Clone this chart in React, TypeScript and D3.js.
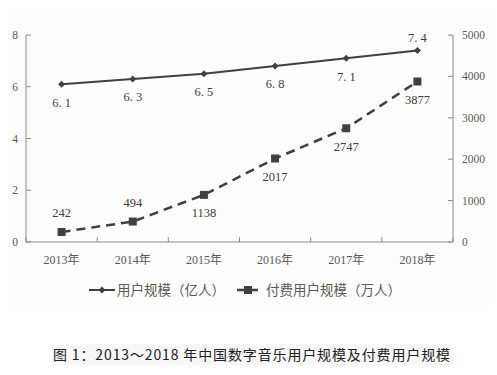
import React from "react";
import * as d3 from "d3";

const years = ["2013年", "2014年", "2015年", "2016年", "2017年", "2018年"];
const users = [6.1, 6.3, 6.5, 6.8, 7.1, 7.4];
const paidUsers = [242, 494, 1138, 2017, 2747, 3877];
const leftTicks = [0, 2, 4, 6, 8];
const rightTicks = [0, 1000, 2000, 3000, 4000, 5000];
const userLabelAbove = [false, false, false, false, false, true];
const paidLabelAbove = [true, true, false, false, false, false];
const legendNames = ["用户规模（亿人）", "付费用户规模（万人）"];
const caption = "图 1：2013～2018 年中国数字音乐用户规模及付费用户规模";

const W = 497, H = 375;
const left = 26, right = 453, top = 35, bottom = 242;
const col = "#404040";
const axisCol = "#8c8c8c";
const txtCol = "#595959";
const serif = "'Liberation Serif', 'DejaVu Serif', 'Noto Sans CJK SC', serif";
const cjk = "'Noto Sans CJK SC', sans-serif";

export default function App() {
  const x = d3.scaleBand<string>().domain(years).range([left, right]).padding(0);
  const yL = d3.scaleLinear().domain([0, 8]).range([bottom, top]);
  const yR = d3.scaleLinear().domain([0, 5000]).range([bottom, top]);
  const cx = (i: number) => (x(years[i]) as number) + x.bandwidth() / 2;
  const line1 = d3.line<number>().x((_, i) => cx(i)).y((d) => yL(d));
  const line2 = d3.line<number>().x((_, i) => cx(i)).y((d) => yR(d));
  const boundaries = years.map((y) => x(y) as number).concat([right]);

  const diamond = (px: number, py: number, s: number) =>
    `M${px},${py - s}L${px + s},${py}L${px},${py + s}L${px - s},${py}Z`;

  return (
    <svg width={W} height={H} style={{ position: "absolute", left: 0, top: 0 }}>
      <rect x={0} y={0} width={W} height={H} fill="#fff" />
      <rect x={8} y={8} width={482} height={298} fill="#fdfdfd" />
      {/* axes */}
      <line x1={left} x2={left} y1={top} y2={bottom} stroke={axisCol} />
      <line x1={right} x2={right} y1={top} y2={bottom} stroke={axisCol} />
      <line x1={left} x2={right} y1={bottom} y2={bottom} stroke={axisCol} />
      {leftTicks.map((t) => (
        <g key={"l" + t}>
          <line x1={left} x2={left + 5} y1={yL(t)} y2={yL(t)} stroke={axisCol} />
          <text x={18} y={yL(t)} dy="0.35em" textAnchor="end" fontSize={11.5} fontFamily={serif} fill={txtCol}>{t}</text>
        </g>
      ))}
      {rightTicks.map((t) => (
        <g key={"r" + t}>
          <line x1={right - 5} x2={right} y1={yR(t)} y2={yR(t)} stroke={axisCol} />
          <text x={462} y={yR(t)} dy="0.35em" textAnchor="start" fontSize={11.5} fontFamily={serif} fill={txtCol}>{t}</text>
        </g>
      ))}
      {boundaries.map((b, i) => (
        <line key={"b" + i} x1={b} x2={b} y1={bottom} y2={bottom - 5} stroke={axisCol} />
      ))}
      {years.map((y, i) => (
        <text key={y} x={cx(i)} y={260} dy="0.35em" textAnchor="middle" fontSize={12} fontFamily={serif} fill={txtCol}>{y}</text>
      ))}
      {/* series 1 */}
      <path d={line1(users) || ""} fill="none" stroke={col} strokeWidth={2} />
      {users.map((v, i) => (
        <g key={"u" + i}>
          <path d={diamond(cx(i), yL(v), 3.5)} fill={col} />
          <text x={cx(i)} y={userLabelAbove[i] ? yL(v) - 13 : yL(v) + 18} dy="0.35em" textAnchor="middle" fontSize={12.5} fontFamily={serif} fill={col}>
            {v.toFixed(1).replace(".", ". ")}
          </text>
        </g>
      ))}
      {/* series 2 */}
      <path d={line2(paidUsers) || ""} fill="none" stroke={col} strokeWidth={2.5} strokeDasharray="9,6" />
      {paidUsers.map((v, i) => (
        <g key={"p" + i}>
          <rect x={cx(i) - 4} y={yR(v) - 4} width={8} height={8} fill={col} />
          <text x={cx(i)} y={paidLabelAbove[i] ? yR(v) - 19 : yR(v) + 18} dy="0.35em" textAnchor="middle" fontSize={12.5} fontFamily={serif} fill={col}>
            {v}
          </text>
        </g>
      ))}
      {/* legend */}
      <line x1={89} x2={115} y1={290} y2={290} stroke={col} strokeWidth={2} />
      <path d={diamond(102, 290, 3.5)} fill={col} />
      <text x={117} y={290} dy="0.35em" fontSize={13.5} fontFamily={cjk} fill={txtCol}>{legendNames[0]}</text>
      <line x1={237} x2={258} y1={290} y2={290} stroke={col} strokeWidth={2.5} />
      <rect x={244} y={286} width={8} height={8} fill={col} />
      <text x={266} y={290} dy="0.35em" fontSize={13.5} fontFamily={cjk} fill={txtCol}>{legendNames[1]}</text>
      {/* caption */}
      <rect x={52} y={344} width={400} height={21} fill="#f8f8f8" />
      <text x={53} y={355} dy="0.35em" fontSize={14} fontFamily={cjk} fill="#222" textLength={397} lengthAdjust="spacing">{caption}</text>
    </svg>
  );
}
